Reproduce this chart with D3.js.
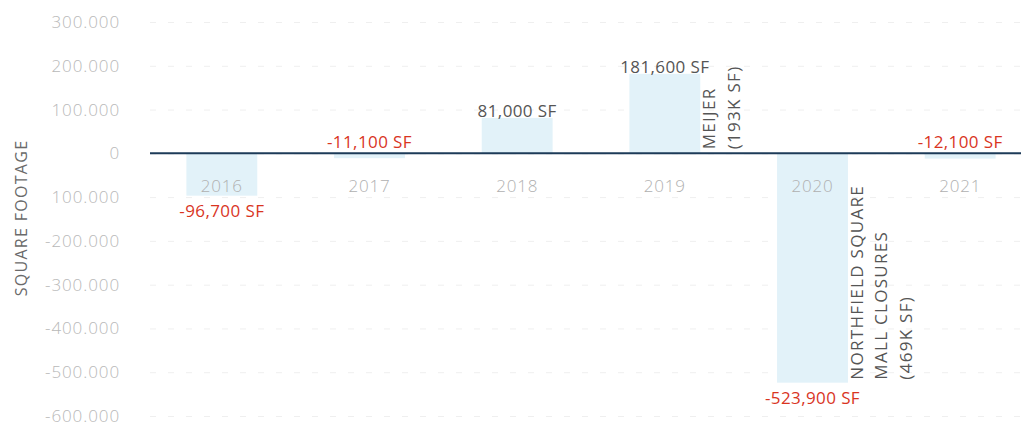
<!DOCTYPE html>
<html>
<head>
<meta charset="utf-8">
<script src="https://cdn.jsdelivr.net/npm/d3@7"></script>
<style>
  body { margin: 0; background: #fff; }
  text { font-family: "Open Sans", "Noto Sans", sans-serif; }
</style>
</head>
<body>
<script>
const width = 1021
const height = 426

const years = ['2016', '2017', '2018', '2019', '2020', '2021']
const values = [-96700, -11100, 81000, 181600, -523900, -12100]
const valueLabels = ['-96,700 SF', '-11,100 SF', '81,000 SF', '181,600 SF', '-523,900 SF', '-12,100 SF']
const tickValues = [300000, 200000, 100000, 0, -100000, -200000, -300000, -400000, -500000, -600000]
const tickLabels = ['300.000', '200.000', '100.000', '0', '100.000', '-200.000', '-300.000', '-400.000', '-500.000', '-600.000']
const notes = [
  { year: '2019', lines: ['MEIJER', '(193K SF)'] },
  { year: '2020', lines: ['NORTHFIELD SQUARE', 'MALL CLOSURES', '(469K SF)'] }
]

const svg = d3.select('body').append('svg')
  .attr('width', width)
  .attr('height', height)

const x = d3.scaleBand().domain(years).range([148, 1034])
  .paddingInner(0.52).paddingOuter(0.26)
const y = d3.scaleLinear().domain([-600000, 300000]).range([416, 22])

// grid lines
svg.append('g')
  .attr('id', 'grid')
  .attr('transform', 'translate(150,0)')
  .call(d3.axisLeft(y).tickValues(tickValues).tickSize(-(width - 150)).tickFormat(''))
  .call(g => g.select('.domain').remove())
  .call(g => g.selectAll('line')
    .attr('stroke', '#efefef')
    .attr('stroke-dasharray', '6,12'))

// y tick labels
svg.append('g')
  .attr('id', 'y-axis')
  .attr('transform', 'translate(123,0)')
  .call(d3.axisLeft(y).tickValues(tickValues).tickSize(0)
    .tickFormat((d, i) => tickLabels[i]))
  .call(g => g.select('.domain').remove())
  .call(g => g.selectAll('text')
    .attr('fill', '#b8b8b8')
    .attr('font-size', '17px')
    .attr('letter-spacing', '0.9px')
    .attr('font-weight', 300))

svg.append('text')
  .attr('transform', `translate(27,218) rotate(-90)`)
  .attr('text-anchor', 'middle')
  .attr('fill', '#6a6a6a')
  .attr('font-size', '16px')
  .attr('letter-spacing', '1.3px')
  .text('SQUARE FOOTAGE')

// bars
svg.append('g')
  .attr('id', 'bars')
  .selectAll('rect')
  .data(years)
  .enter()
  .append('rect')
  .attr('x', d => x(d))
  .attr('width', x.bandwidth())
  .attr('y', (d, i) => y(Math.max(0, values[i])))
  .attr('height', (d, i) => Math.abs(y(values[i]) - y(0)))
  .attr('fill', '#e2f2f9')

// zero line
svg.append('line')
  .attr('x1', 150)
  .attr('x2', width)
  .attr('y1', y(0))
  .attr('y2', y(0))
  .attr('stroke', '#1d3b58')
  .attr('stroke-width', 2)

// year labels
svg.append('g')
  .attr('id', 'x-labels')
  .selectAll('text')
  .data(years)
  .enter()
  .append('text')
  .attr('x', d => x(d) + x.bandwidth() / 2)
  .attr('y', y(0) + 39)
  .attr('text-anchor', 'middle')
  .attr('fill', '#b0b0b0')
  .attr('font-size', '17px')
  .attr('letter-spacing', '0.8px')
  .attr('font-weight', 300)
  .text(d => d)

// value labels
svg.append('g')
  .attr('id', 'value-labels')
  .selectAll('text')
  .data(years)
  .enter()
  .append('text')
  .attr('x', d => x(d) + x.bandwidth() / 2)
  .attr('y', (d, i) => {
    const v = values[i]
    if (v >= 0) return y(v) - 1
    if (v > -50000) return y(0) - 5
    return y(v) + 21
  })
  .attr('text-anchor', 'middle')
  .attr('fill', (d, i) => values[i] < 0 ? '#d9351f' : '#555')
  .attr('font-size', '17px')
  .attr('letter-spacing', '0.4px')
  .text((d, i) => valueLabels[i])

// vertical notes
notes.forEach(n => {
  const i = years.indexOf(n.year)
  const base = n.year === '2020' ? y(values[i]) - 3 : y(0) - 4
  n.lines.forEach((line, k) => {
    svg.append('text')
      .attr('transform', `translate(${x(n.year) + x.bandwidth() + 15 + k * 24.5},${base}) rotate(-90)`)
      .attr('fill', '#555')
      .attr('font-size', '17px')
      .attr('letter-spacing', '1.3px')
      .text(line)
  })
})
</script>
</body>
</html>
